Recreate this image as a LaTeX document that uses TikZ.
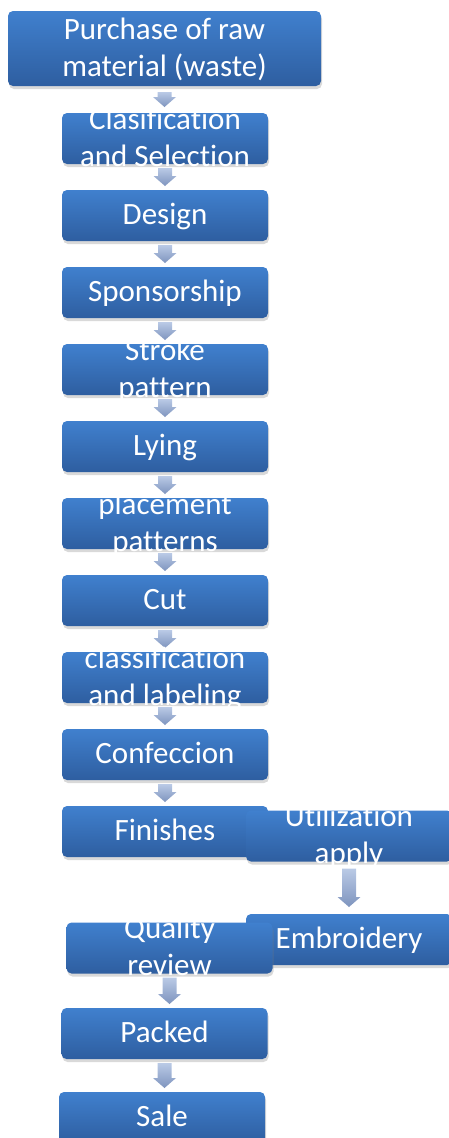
\documentclass[tikz,border=0pt]{standalone}
\usepackage{fontspec}
\setmainfont[Ligatures={NoCommon}]{Carlito}
\usetikzlibrary{calc,shadows,backgrounds}
\definecolor{boxtop}{RGB}{64,128,206}
\definecolor{boxbot}{RGB}{46,94,160}
\definecolor{arrtop}{RGB}{186,202,230}
\definecolor{arrbot}{RGB}{126,148,190}
\newcommand{\st}{\rule[-7pt]{0pt}{32pt}}
\tikzset{
  stepbox/.style={rectangle, rounded corners=5pt, minimum width=206pt,
    minimum height=51pt, inner sep=0pt, outer sep=0pt,
    top color=boxtop, bottom color=boxbot, draw=none,
    drop shadow={opacity=0.3, shadow xshift=1pt, shadow yshift=-3pt}},
  lbl/.style={text=white, font=\fontsize{31}{37}\selectfont, align=center, inner sep=0pt},
  arrowfill/.style={top color=arrtop, bottom color=arrbot, draw=none},
}
\newcommand{\flowarrow}[3][4pt]{%
  \path[arrowfill] let \p1=($(#2.south)+(0,-#1)$), \p2=($(#3.north)+(0,#1)$) in
    (\x1-7pt,\y1) -- (\x1+7pt,\y1) -- (\x1+7pt,\y2+10pt) -- (\x1+11.5pt,\y2+10pt)
    -- (\x1,\y2) -- (\x1-11.5pt,\y2+10pt) -- (\x1-7pt,\y2+10pt) -- cycle;}
\begin{document}
\begin{tikzpicture}[x=1pt,y=1pt]
\clip (0,0) rectangle (449,-1138);
\node[stepbox, minimum width=313pt, minimum height=75pt,
  label={[lbl]center:{\st Purchase of raw\\\st material (waste)}}] (n1) at (164.5,-48.5) {};
\node[stepbox, label={[lbl]center:{\st Clasification\\\st and Selection}}] (n2) at (165,-138.5) {};
\node[stepbox, label={[lbl]center:{\st Design}}] (n3) at (165,-215.5) {};
\node[stepbox, label={[lbl]center:{\st Sponsorship}}] (n4) at (165,-292.5) {};
\node[stepbox, label={[lbl]center:{\st Stroke\\\st pattern}}] (n5) at (165,-369.5) {};
\node[stepbox, label={[lbl]center:{\st Lying}}] (n6) at (165,-446.5) {};
\node[stepbox, label={[lbl]center:{\st placement\\\st patterns}}] (n7) at (165,-523.5) {};
\node[stepbox, label={[lbl]center:{\st Cut}}] (n8) at (165,-600.5) {};
\node[stepbox, label={[lbl]center:{\st classification\\\st and labeling}}] (n9) at (165,-677.5) {};
\node[stepbox, label={[lbl]center:{\st Confeccion}}] (n10) at (165,-754.5) {};
\node[stepbox, label={[lbl]center:{\st Finishes}}] (n11) at (165,-831.5) {};
\node[stepbox, label={[lbl]center:{\st Utilization\\\st apply}}] (n12) at (349,-836) {};
\node[stepbox, label={[lbl]center:{\st Embroidery}}] (n13) at (349,-939.5) {};
\node[stepbox, label={[lbl]center:{\st Quality\\\st review}}] (n14) at (169.5,-948) {};
\node[stepbox, label={[lbl]center:{\st Packed}}] (n15) at (164.5,-1033.5) {};
\node[stepbox, label={[lbl]center:{\st Sale}}] (n16) at (162,-1117.5) {};
\begin{scope}[on background layer]
\flowarrow[6pt]{n1}{n2}
\flowarrow{n2}{n3}
\flowarrow{n3}{n4}
\flowarrow{n4}{n5}
\flowarrow{n5}{n6}
\flowarrow{n6}{n7}
\flowarrow{n7}{n8}
\flowarrow{n8}{n9}
\flowarrow{n9}{n10}
\flowarrow{n10}{n11}
\flowarrow[7pt]{n12}{n13}
\flowarrow{n14}{n15}
\flowarrow{n15}{n16}
\end{scope}
\end{tikzpicture}
\end{document}
